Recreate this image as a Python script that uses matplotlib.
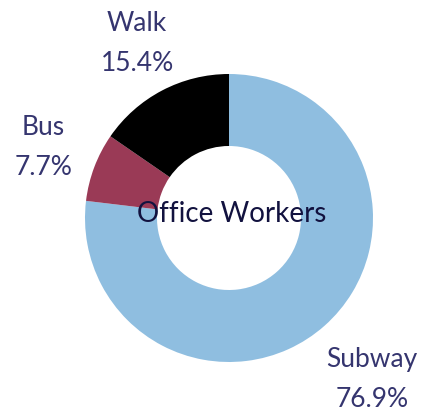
import matplotlib
matplotlib.use("Agg")
import matplotlib.pyplot as plt
import numpy as np

categories = ["Subway", "Bus", "Walk"]
values = [76.9, 7.7, 15.4]
colors = ["#8fbee0", "#9a3a56", "#000000"]
center_title = "Office Workers"

W, H = 425, 419
fig = plt.figure(figsize=(W / 100, H / 100), dpi=100)
ax = fig.add_axes([0, 0, 1, 1])

cx, cy, r = 229, 218, 144  # pixel layout

labels = [f"{c}\n{v:.1f}%" for c, v in zip(categories, values)]
wedges, texts = ax.pie(values, colors=colors, startangle=90, counterclock=False,
                       radius=1.0, labels=labels, labeldistance=1.40,
                       wedgeprops=dict(width=0.5, linewidth=0),
                       textprops=dict(fontsize=19, color="#35356f", family="Lato",
                                      linespacing=1.75),
                       frame=True)
ax.set_xlim(-cx / r, (W - cx) / r)
ax.set_ylim(-(H - cy) / r, cy / r)
ax.set_aspect("auto")
ax.axis("off")
for t in texts:
    t.set_ha("center")
    t.set_va("center")
# per-label radial adjustment
for t, k in zip(texts, [1.07, 0.985, 0.98]):
    x, y = t.get_position()
    t.set_position((x * k, y * k))

ax.text(0.02, 0.03, center_title, ha="center", va="center", fontsize=20,
        color="#12123f", family="Lato")

fig.savefig("out.png", dpi=100)
